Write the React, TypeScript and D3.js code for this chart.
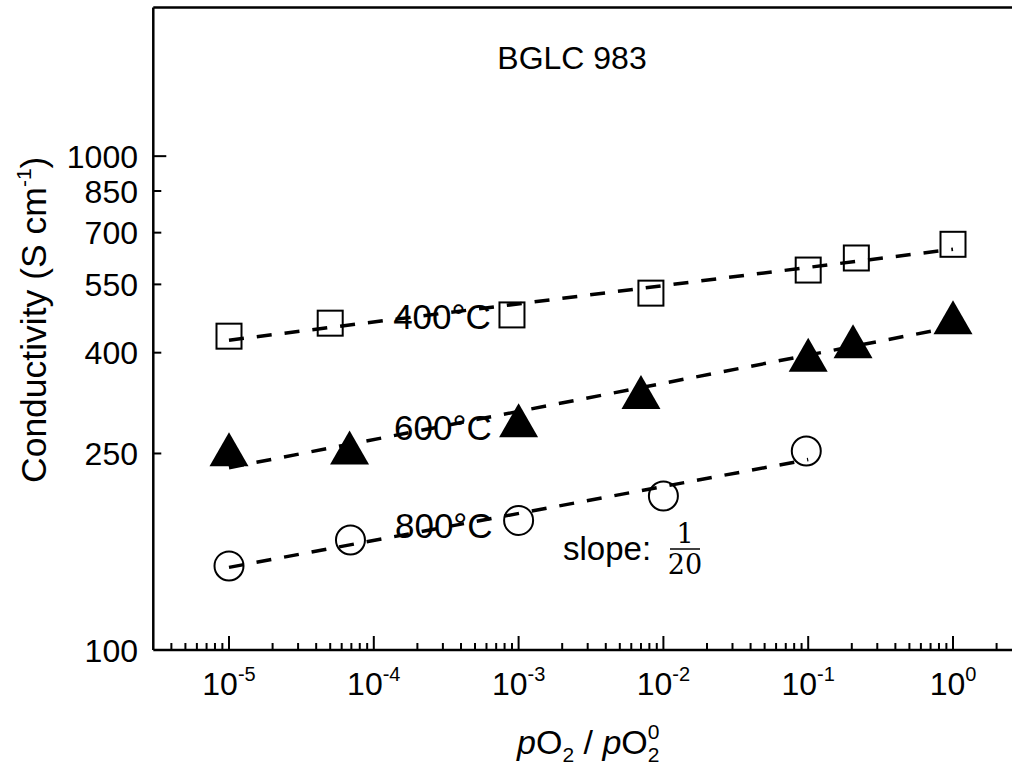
import React from "react";
import * as d3 from "d3";

const W = 1012;
const H = 769;

// Data
const x400 = [1e-5, 5e-5, 9e-4, 8.2e-3, 0.1, 0.215, 1];
const y400 = [432, 459, 477, 528, 588, 622, 663];
const x600 = [1e-5, 6.8e-5, 1e-3, 7e-3, 0.1, 0.204, 1];
const y600 = [255, 257, 292, 333, 396, 422, 472];
const x800 = [1e-5, 6.9e-5, 1e-3, 1e-2, 0.097];
const y800 = [148, 167, 183, 205, 253];

// Fit lines: [x0, x1], [y0, y1]
const fit400X = [1e-5, 1];
const fit400Y = [424, 648];
const fit600X = [1e-5, 1];
const fit600Y = [234, 451];
const fit800X = [1e-5, 0.1];
const fit800Y = [147, 243];

const yTicks = [100, 250, 400, 550, 700, 850, 1000];
const xTickExps = [-5, -4, -3, -2, -1, 0];
const tempLabels = ["400°C", "600°C", "800°C"];
const tempLabelX = [1.36e-4, 1.38e-4, 1.4e-4];
const tempLabelY = [446, 266, 168.5];

const FONT = "Arial, 'Liberation Sans', Helvetica, sans-serif";

export default function App() {
  const x = d3.scaleLog().domain([1e-5, 1]).range([229, 953]);
  const y = d3.scaleLog().domain([100, 2000]).range([650, 7.5]);
  const xLeft = 3e-6;
  const xRight = 3;
  const x0 = x(xLeft);
  const x1 = x(xRight);
  const yB = y(100);
  const yT = y(2000);

  const minor: number[] = [];
  for (let e = -6; e <= 0; e++) {
    for (let m = 2; m <= 9; m++) {
      const v = m * Math.pow(10, e);
      if (v > xLeft && v < xRight) minor.push(v);
    }
  }

  const line = d3
    .line<[number, number]>()
    .x((d) => x(d[0]))
    .y((d) => y(d[1]));

  const fits = [
    [fit400X, fit400Y],
    [fit600X, fit600Y],
    [fit800X, fit800Y],
  ];

  const tri = (cx: number, cy: number) =>
    `M${cx},${cy - 17}L${cx + 19.5},${cy + 17}L${cx - 19.5},${cy + 17}Z`;

  return (
    <svg
      width={W}
      height={H}
      style={{ position: "absolute", left: 0, top: 0, background: "#fff" }}
      fontFamily={FONT}
    >
      <rect x={0} y={0} width={W} height={H} fill="#fff" />
      {/* frame */}
      <line x1={x0} x2={x1} y1={yB} y2={yB} stroke="#000" strokeWidth={2.5} />
      <line x1={x0} x2={x1} y1={yT} y2={yT} stroke="#000" strokeWidth={2.5} />
      <line x1={x0} x2={x0} y1={yT} y2={yB} stroke="#000" strokeWidth={2.5} />

      {/* x ticks */}
      {xTickExps.map((e) => (
        <line
          key={"xm" + e}
          x1={x(Math.pow(10, e))}
          x2={x(Math.pow(10, e))}
          y1={yB}
          y2={yB - 14}
          stroke="#000"
          strokeWidth={2}
        />
      ))}
      {minor.map((v, i) => (
        <line
          key={"xn" + i}
          x1={x(v)}
          x2={x(v)}
          y1={yB}
          y2={yB - 7}
          stroke="#000"
          strokeWidth={2}
        />
      ))}
      {xTickExps.map((e) => (
        <text
          key={"xl" + e}
          x={x(Math.pow(10, e))}
          y={695}
          textAnchor="middle"
          fontSize={32}
        >
          <tspan>10</tspan>
          <tspan fontSize={20} dy={-14}>
            {e}
          </tspan>
        </text>
      ))}

      {/* y ticks */}
      {yTicks.map((t) => (
        <g key={"y" + t}>
          {t !== 100 && (
            <line
              x1={x0}
              x2={x0 + (t === 1000 ? 13 : 8)}
              y1={y(t)}
              y2={y(t)}
              stroke="#000"
              strokeWidth={2}
            />
          )}
          <text
            x={138}
            y={y(t)}
            dy="0.36em"
            textAnchor="end"
            fontSize={32}
          >
            {t}
          </text>
        </g>
      ))}

      {/* axis titles */}
      <text
        transform={`translate(46,483) rotate(-90)`}
        textAnchor="start"
        fontSize={35.5}
      >
        <tspan>Conductivity (S cm</tspan>
        <tspan fontSize={21} dy={-15}>
          -1
        </tspan>
        <tspan dy={15}>)</tspan>
      </text>
      <text x={517} y={754} fontSize={34}>
        <tspan fontStyle="italic">p</tspan>
        <tspan>O</tspan>
        <tspan fontSize={21} dy={8}>
          2
        </tspan>
        <tspan dy={-8}> / </tspan>
        <tspan fontStyle="italic">p</tspan>
        <tspan>O</tspan>
        <tspan fontSize={21} dy={-15}>
          0
        </tspan>
        <tspan fontSize={21} dx={-11.7} dy={23}>
          2
        </tspan>
      </text>

      {/* title */}
      <text x={572} y={69} textAnchor="middle" fontSize={32}>
        BGLC 983
      </text>

      {/* slope annotation */}
      <text x={563} y={560} fontSize={33}>
        slope:
      </text>
      <text
        x={685}
        y={543}
        textAnchor="middle"
        fontSize={27}
        fontFamily="'DejaVu Serif', 'Liberation Serif', serif"
      >
        1
      </text>
      <line x1={670} x2={700} y1={549} y2={549} stroke="#000" strokeWidth={1.5} />
      <text
        x={685}
        y={574}
        textAnchor="middle"
        fontSize={27}
        fontFamily="'DejaVu Serif', 'Liberation Serif', serif"
      >
        20
      </text>

      {/* temperature labels */}
      {tempLabels.map((l, i) => (
        <text
          key={l}
          x={x(tempLabelX[i])}
          y={y(tempLabelY[i])}
          fontSize={35}
        >
          {l}
        </text>
      ))}

      {/* markers */}
      {x400.map((v, i) => (
        <rect
          key={"s" + i}
          x={x(v) - 12.5}
          y={y(y400[i]) - 12.5}
          width={25}
          height={25}
          fill="none"
          stroke="#000"
          strokeWidth={2}
        />
      ))}
      {x600.map((v, i) => (
        <path key={"t" + i} d={tri(x(v), y(y600[i]))} fill="#000" />
      ))}
      {x800.map((v, i) => (
        <circle
          key={"c" + i}
          cx={x(v)}
          cy={y(y800[i])}
          r={14.5}
          fill="none"
          stroke="#000"
          strokeWidth={2}
        />
      ))}

      {/* fit lines */}
      {fits.map(([fx, fy], i) => (
        <path
          key={"f" + i}
          d={line([
            [fx[0], fy[0]],
            [fx[1], fy[1]],
          ])!}
          fill="none"
          stroke="#000"
          strokeWidth={3.5}
          strokeDasharray="15 13"
        />
      ))}
    </svg>
  );
}
